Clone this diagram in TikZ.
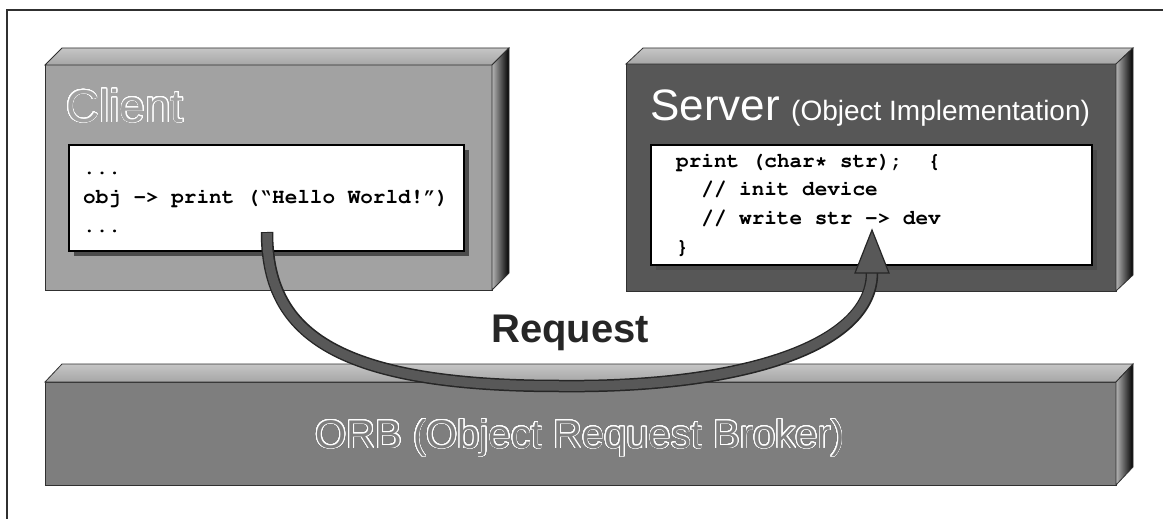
\documentclass[tikz,border=0pt]{standalone}
\usepackage[T1]{fontenc}
\usepackage{fontspec}
\setmainfont{Liberation Sans}
\newcommand\courierbold{\fontencoding{T1}\fontfamily{pcr}\fontseries{b}\fontshape{n}\selectfont}
\usepackage[copies]{contour}
\contourlength{0.75pt}
\contournumber{32}
\usetikzlibrary{calc,shadows}
\definecolor{clientgray}{HTML}{A2A2A2}
\definecolor{servergray}{HTML}{575757}
\definecolor{orbgray}{HTML}{7E7E7E}
\definecolor{edgegray}{HTML}{303030}
\definecolor{reqgray}{HTML}{585858}
\tikzset{
  slabfront/.style={draw=edgegray, line width=1pt, inner sep=0pt, outer sep=0pt, anchor=north west},
  topface/.style={draw=edgegray, line width=0.8pt, top color=gray!45, middle color=white, bottom color=gray!70},
  sideface/.style={draw=edgegray, line width=0.8pt, left color=gray!60, right color=black},
  codebox/.style={draw=black, line width=1.6pt, fill=white, inner sep=0pt, outer sep=0pt, anchor=north west,
    drop shadow={shadow xshift=4.5pt, shadow yshift=-5pt, fill=black!70, opacity=1}},
  codetext/.style={anchor=base west, inner sep=0pt, font=\courierbold\fontsize{21}{24}\selectfont, text=black},
  bigtitle/.style={anchor=base west, inner sep=0pt, font=\fontsize{46}{50}\selectfont},
  reqline/.style={line cap=butt, line join=round},
  framestyle/.style={draw=edgegray, line width=1.3pt}
}
\begin{document}
\begin{tikzpicture}[x=1pt,y=-1pt]
\useasboundingbox (0,0) rectangle (1163,519);
\fill[white] (0,0) rectangle (1163,519);
% frame
\coordinate (fbl) at (7,519);
\coordinate (ftl) at (7,10);
\coordinate (ftr) at (1163,10);
\draw[framestyle] (fbl) -- (ftl) -- (ftr);

% ORB slab
\node[slabfront, fill=orbgray, minimum width=1071pt, minimum height=103pt] (orb) at (45,382) {};
\path[topface] (orb.north west) -- ++(17,-18) -- ($(orb.north east)+(17,-18)$) -- (orb.north east) -- cycle;
\path[sideface] (orb.north east) -- ++(17,-18) -- ($(orb.south east)+(17,-18)$) -- (orb.south east) -- cycle;

% Client slab
\node[slabfront, fill=clientgray, minimum width=447pt, minimum height=225pt] (client) at (45,65) {};
\path[topface] (client.north west) -- ++(17,-17) -- ($(client.north east)+(17,-17)$) -- (client.north east) -- cycle;
\path[sideface] (client.north east) -- ++(17,-17) -- ($(client.south east)+(17,-17)$) -- (client.south east) -- cycle;

% Server slab
\node[slabfront, fill=servergray, minimum width=490pt, minimum height=227pt] (server) at (626,64) {};
\path[topface] (server.north west) -- ++(17,-16) -- ($(server.north east)+(17,-16)$) -- (server.north east) -- cycle;
\path[sideface] (server.north east) -- ++(17,-16) -- ($(server.south east)+(17,-16)$) -- (server.south east) -- cycle;

% titles
\node[bigtitle, text=clientgray] (clienttitle) at (66,122) {\contour{white}{Client}};
\node[bigtitle, text=white, font=\fontsize{44}{48}\selectfont] (servertitle) at (650,121) {Server};
\node[anchor=base west, inner sep=0pt, text=white, font=\fontsize{28}{32}\selectfont] (serversub) at (791,121) {(Object Implementation)};

% code boxes
\node[codebox, minimum width=395pt, minimum height=106pt] (ccode) at (69,145) {};
\node[codebox, minimum width=441pt, minimum height=120pt] (scode) at (651,145) {};

\node[codetext] (c1) at (83,174) {...};
\node[codetext] (c2) at (83,203) {obj -> print (\textquotedblleft Hello World!\textquotedblright)};
\node[codetext] (c3) at (83,232) {...};

\node[codetext] (s1) at (676,167) {print (char* str);\ \ \textbraceleft};
\node[codetext] (s2) at (676,195) {\ \ // init device};
\node[codetext] (s3) at (676,224) {\ \ // write str -> dev};
\node[codetext] (s4) at (676,253) {\textbraceright};

% ORB label
\node[anchor=base, inner sep=0pt, text=orbgray, font=\fontsize{40}{44}\selectfont] (orblabel) at (580,448) {\contour{white}{ORB (Object Request Broker)}};

% Request label
\node[anchor=base west, inner sep=0pt, text=black!85, font=\bfseries\fontsize{40}{44}\selectfont] (reqlabel) at (491,342) {Request};

% Request connector
\coordinate (reqstart) at ($(ccode.south west)+(198,-19)$);
\coordinate (reqend) at ($(scode.south west)+(221,8)$);
\coordinate (reqtip) at ($(scode.south west)+(221,-35)$);
\coordinate (reqlow) at (560,386);
\draw[reqline, line width=12.5pt, black!85] (reqstart) .. controls (267,330) and (330,386) .. (reqlow) .. controls (745,388) and (872,345) .. (reqend);
\draw[reqline, line width=9.5pt, reqgray] ($(reqstart)+(0,1)$) .. controls (267,330) and (330,386) .. (reqlow) .. controls (745,388) and (872,345) .. ($(reqend)+(0,-1)$);
\filldraw[fill=reqgray, draw=black!85, line width=1.2pt, line join=miter] ($(reqend)+(-17,0)$) -- (reqtip) -- ($(reqend)+(17,0)$) -- cycle;
\end{tikzpicture}
\end{document}
